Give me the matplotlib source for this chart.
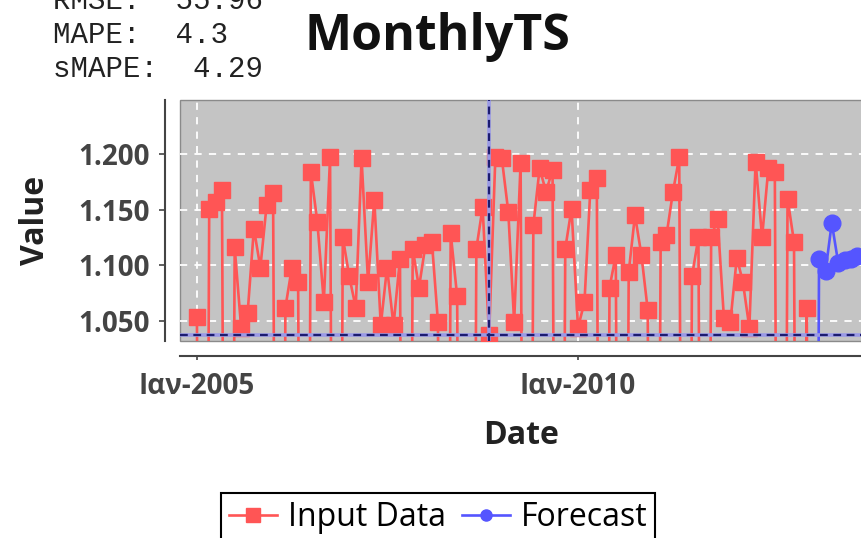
import numpy as np
import pandas as pd
import matplotlib
matplotlib.use("Agg")
import matplotlib.pyplot as plt
from matplotlib.lines import Line2D
from matplotlib.ticker import FuncFormatter

plt.rcParams["font.family"] = ["Open Sans", "DejaVu Sans"]

# Monthly series, starting Jan 2005; zero = missing month (falls below the plot range)
actual_values = [
    1054, 0, 1151, 1157, 1168, 0, 1116, 1044, 1057, 1133,
    1098, 1154, 1165, 0, 1062, 1098, 1085, 0, 1184, 1139,
    1067, 1197, 0, 1125, 1090, 1062, 1196, 1085, 1159, 1046,
    1098, 1046, 1106, 0, 1115, 1080, 1118, 1121, 1049, 0,
    1129, 1072, 0, 0, 1115, 1152, 1037, 1197, 1196, 1148,
    1049, 1192, 0, 1136, 1187, 1166, 1186, 0, 1115, 1151,
    1044, 1067, 1168, 1178, 0, 1080, 1109, 0, 1094, 1145,
    1109, 1060, 0, 1121, 1127, 1166, 1197, 0, 1090, 1125,
    0, 1125, 1142, 1053, 1049, 1107, 1085, 1044, 1193, 1125,
    1187, 1184, 0, 1160, 1121, 0, 1062, 0,
]
forecast_values = [0, 1106, 1095, 1138, 1102, 1105, 1106, 1108]

actual_dates = pd.date_range("2005-01-01", periods=len(actual_values), freq="MS")
forecast_dates = pd.date_range(actual_dates[-1], periods=len(forecast_values), freq="MS")

crosshair_idx = 46

y_ticks = [1050, 1100, 1150, 1200]
x_tick_dates = pd.to_datetime(["2005-01-01", "2010-01-01"])
x_tick_labels = ["Ιαν-2005", "Ιαν-2010"]

metrics = [("RMSE:", "55.96"), ("MAPE:", "4.3"), ("sMAPE:", "4.29")]

RED = "#FF5555"
BLUE = "#5555FF"
W, H, DPI = 861, 538, 100

fig = plt.figure(figsize=(W / DPI, H / DPI), dpi=DPI)
fig.patch.set_facecolor("white")

ax = fig.add_axes([180 / W, 1 - 341 / H, (880 - 180) / W, (341 - 100) / H])
ax.set_facecolor("#C4C4C4")
ax.patch.set_edgecolor("#8a8a8a")
ax.patch.set_linewidth(1.0)

ax.plot(actual_dates, actual_values, color=RED, lw=1.9, marker="s", ms=12,
        mfc=RED, mec=RED, zorder=3)
ax.plot(forecast_dates, forecast_values, color=BLUE, lw=1.9, marker="o", ms=12,
        mfc=BLUE, mec=BLUE, zorder=3)

# crosshair on the selected point: pale halo under a dark dashed line
cx, cy = actual_dates[crosshair_idx], actual_values[crosshair_idx]
ax.axvline(cx, color="#9a9ae6", lw=2.6, zorder=4)
ax.axhline(cy, color="#9a9ae6", lw=2.6, zorder=4)
ax.axvline(cx, color="#1c1c70", lw=1.6, linestyle=(0, (3.5, 2.5)), zorder=5)
ax.axhline(cy, color="#1c1c70", lw=1.6, linestyle=(0, (3.5, 2.5)), zorder=5)

ax.set_xlim(pd.Timestamp("2004-10-12"), pd.Timestamp("2013-12-18"))
ax.set_ylim(1032, 1248.5)

ax.set_yticks(y_ticks)
ax.yaxis.set_major_formatter(FuncFormatter(lambda v, _: f"{v:,.0f}".replace(",", ".")))
ax.set_xticks(x_tick_dates)
ax.set_xticklabels(x_tick_labels)

ax.grid(True, color="white", lw=1.3, linestyle=(0, (4, 4)))
ax.set_axisbelow(True)

for side in ("top", "right"):
    ax.spines[side].set_visible(False)
ax.spines["left"].set_position(("outward", 11))
ax.spines["bottom"].set_position(("outward", 11))
for side in ("left", "bottom"):
    ax.spines[side].set_color("#444444")
    ax.spines[side].set_linewidth(1.5)

ax.tick_params(axis="y", length=4, width=1.2, pad=7, colors="#444444", labelsize=20)
ax.tick_params(axis="x", length=3, width=1.2, pad=8, colors="#444444", labelsize=20)
for lbl in ax.get_xticklabels() + ax.get_yticklabels():
    lbl.set_fontweight("bold")

fig.text(36 / W, 1 - 220 / H, "Value", rotation=90, ha="center", va="center",
         fontsize=23, fontweight="bold", color="#222222")
fig.text(521 / W, 1 - 436 / H, "Date", ha="center", va="center",
         fontsize=23, fontweight="bold", color="#222222")
fig.text(437 / W, 1 - 50 / H, "MonthlyTS", ha="center", va="baseline",
         fontsize=36, fontweight="bold", color="#111111")

for i, (name, val) in enumerate(metrics):
    fig.text(53 / W, 1 - (9 + 34 * i) / H, f"{name}  {val}", ha="left", va="baseline",
             family="Liberation Mono", fontsize=21, color="#222222")

handles = [
    Line2D([], [], color=RED, lw=1.9, marker="s", ms=10, mfc=RED, mec=RED),
    Line2D([], [], color=BLUE, lw=1.9, marker="o", ms=8, mfc=BLUE, mec=BLUE),
]
leg = fig.legend(handles, ["Input Data", "Forecast"], loc="upper center",
                 bbox_to_anchor=(438 / W, 1 - 493 / H), ncol=2, fontsize=23,
                 frameon=True, fancybox=False, framealpha=1, edgecolor="black",
                 handlelength=1.5, handletextpad=0.35, columnspacing=0.5,
                 borderpad=0.25, borderaxespad=0)
leg.get_frame().set_linewidth(1.5)

fig.savefig("out.png", dpi=DPI)
